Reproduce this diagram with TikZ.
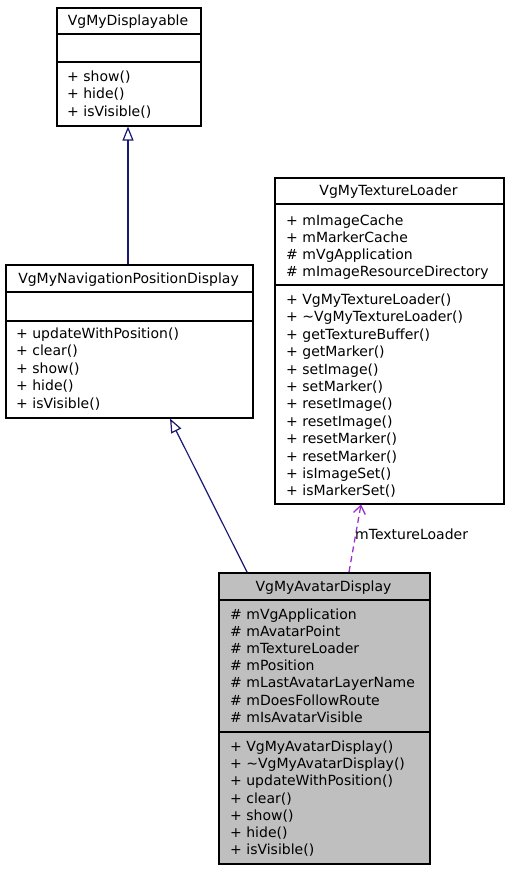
\documentclass[tikz,border=0pt]{standalone}
\usepackage{fontspec}
\setmainfont{DejaVu Sans}
\usetikzlibrary{arrows.meta,calc}
\definecolor{edgeblue}{HTML}{191970}
\definecolor{orchid}{HTML}{9A32CD}
\definecolor{boxgray}{HTML}{BFBFBF}
\begin{document}
\begin{tikzpicture}[x=1bp,y=-1bp,
  classbox/.style={draw=black,line width=1.5bp,rectangle,inner sep=0pt,anchor=north west},
  sepline/.style={line width=1.5bp},
  txt/.style={anchor=base west,inner sep=0pt,font=\fontsize{14bp}{17bp}\selectfont},
  ttl/.style={anchor=base,inner sep=0pt,font=\fontsize{14bp}{17bp}\selectfont},
  inherit/.style={edgeblue,line width=1.2bp,-{Triangle[length=14bp,width=11bp,fill=white]}},
  uses/.style={orchid,line width=1.3bp,dash pattern=on 6bp off 4bp,-{Straight Barb[length=8bp,width=12bp]}}]
\useasboundingbox (0,0) rectangle (509,869);

% VgMyDisplayable
\node[classbox,minimum width=144bp,minimum height=118bp] (disp) at (56,7) {};
\draw[sepline] (56,34) -- (200,34);
\draw[sepline] (56,62) -- (200,62);
\node[ttl] (dispT) at (128,25.5) {VgMyDisplayable};
\foreach \t [count=\i from 0] in {+ show(), + hide(), + isVisible()}
  \node[txt] (dispM\i) at (67,81+17.5*\i) {\t};

% VgMyNavigationPositionDisplay
\node[classbox,minimum width=247bp,minimum height=153bp] (nav) at (5,264) {};
\draw[sepline] (5,292) -- (252,292);
\draw[sepline] (5,321) -- (252,321);
\node[ttl] (navT) at (128.5,283) {VgMyNavigationPositionDisplay};
\foreach \t [count=\i from 0] in {+ updateWithPosition(), + clear(), + show(), + hide(), + isVisible()}
  \node[txt] (navM\i) at (16,338.3+17.5*\i) {\t};

% VgMyTextureLoader
\node[classbox,minimum width=229bp,minimum height=326bp] (tl) at (274,177) {};
\draw[sepline] (274,204) -- (503,204);
\draw[sepline] (274,285) -- (503,285);
\node[ttl] (tlT) at (388.5,195.5) {VgMyTextureLoader};
\foreach \t [count=\i from 0] in {+ mImageCache, + mMarkerCache, \# mVgApplication, \# mImageResourceDirectory}
  \node[txt] (tlA\i) at (286,225+17*\i) {\t};
\foreach \t [count=\i from 0] in {+ VgMyTextureLoader(), + \char"007EVgMyTextureLoader(), + getTextureBuffer(), + getMarker(), + setImage(), + setMarker(), + resetImage(), + resetImage(), + resetMarker(), + resetMarker(), + isImageSet(), + isMarkerSet()}
  \node[txt] (tlM\i) at (286,304.5+17.4*\i) {\t};

% VgMyAvatarDisplay
\node[classbox,fill=boxgray,minimum width=211bp,minimum height=291bp] (av) at (218,572) {};
\draw[sepline] (218,600) -- (429,600);
\draw[sepline] (218,732) -- (429,732);
\node[ttl] (avT) at (323.5,591.5) {VgMyAvatarDisplay};
\foreach \t [count=\i from 0] in {\# mVgApplication, \# mAvatarPoint, \# mTextureLoader, \# mPosition, \# mLastAvatarLayerName, \# mDoesFollowRoute, \# mIsAvatarVisible}
  \node[txt] (avA\i) at (230,619+17.2*\i) {\t};
\foreach \t [count=\i from 0] in {+ VgMyAvatarDisplay(), + \char"007EVgMyAvatarDisplay(), + updateWithPosition(), + clear(), + show(), + hide(), + isVisible()}
  \node[txt] (avM\i) at (230,751.5+17.2*\i) {\t};

% connectors
\draw[inherit] ($(nav.north west)+(123,0)$) -- ($(disp.south west)+(72,0)$);
\draw[inherit] ($(av.north west)+(29,0)$) -- ($(nav.south west)+(165,0)$);
\draw[uses] ($(av.north west)+(131,0)$) -- ($(tl.south west)+(87,0)$);
\node[txt,anchor=mid west] (useL) at (355,537) {mTextureLoader};
\end{tikzpicture}
\end{document}
